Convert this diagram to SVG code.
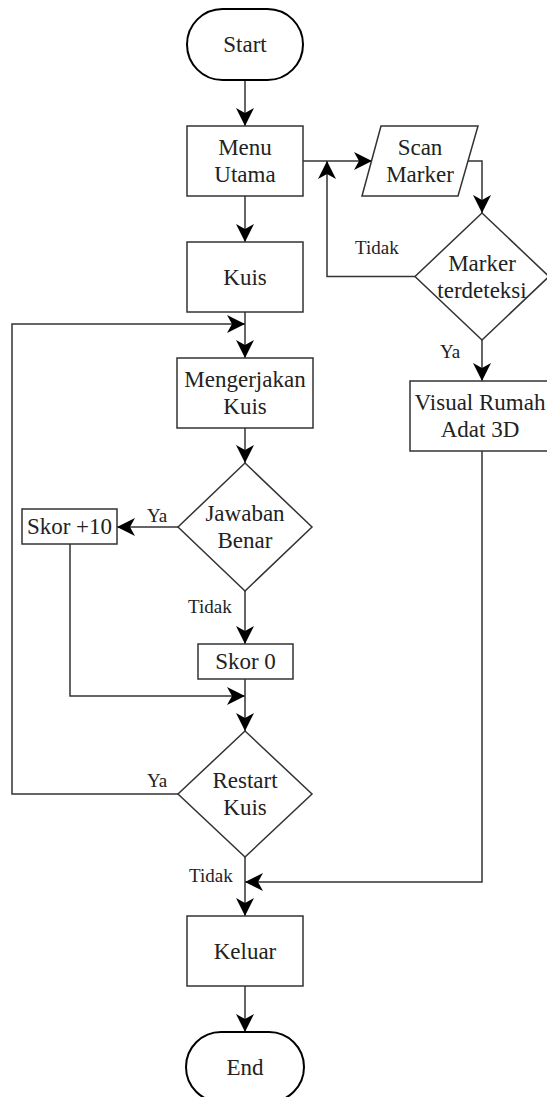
<svg xmlns="http://www.w3.org/2000/svg" width="547" height="1097" viewBox="0 0 547 1097">
<style>
.box{fill:#fff;stroke:#333;stroke-width:1.5}
.term{fill:#fff;stroke:#000;stroke-width:2}
.t{font-family:"Liberation Serif","Times New Roman",serif;font-size:23px;fill:#222;text-anchor:middle}
.lbl{font-family:"Liberation Serif","Times New Roman",serif;font-size:19px;fill:#222}
.edge{fill:none;stroke:#333;stroke-width:1.5;marker-end:url(#arr)}
</style>
<defs>
<marker id="arr" markerUnits="userSpaceOnUse" markerWidth="20" markerHeight="20" viewBox="0 0 20 20" refX="19" refY="10" orient="auto">
<path d="M19,10 L1,1 L6,10 L1,19 Z" fill="#000"/>
</marker>
</defs>
<rect width="547" height="1097" fill="#fff"/>
<g id="connectors">
<path class="edge" d="M245,80 V126"/>
<path class="edge" d="M303,161 H372"/>
<path class="edge" d="M468,161 H482 V213"/>
<path class="edge" d="M415,276.5 H327 V161"/>
<path class="edge" d="M245,196 V242"/>
<path class="edge" d="M245,312 V358"/>
<path class="edge" d="M245,428 V463"/>
<path class="edge" d="M178,527 H117"/>
<path class="edge" d="M245,591 V644"/>
<path class="edge" d="M70,544 V696 H245"/>
<path class="edge" d="M245,679 V731"/>
<path class="edge" d="M178,794 H12 V324 H245"/>
<path class="edge" d="M245,857 V916"/>
<path class="edge" d="M482,340 V381"/>
<path class="edge" d="M482,451 V882 H245"/>
<path class="edge" d="M245,986 V1032"/>
<text class="lbl" x="355" y="254">Tidak</text>
<text class="lbl" x="440" y="358">Ya</text>
<text class="lbl" x="147" y="522">Ya</text>
<text class="lbl" x="188" y="613">Tidak</text>
<text class="lbl" x="147" y="787">Ya</text>
<text class="lbl" x="189" y="882">Tidak</text>
</g>
<g id="start"><rect class="term" x="187" y="9" width="116" height="71" rx="35.5" ry="35.5"/><text class="t" x="245" y="52">Start</text></g>
<g id="menu"><rect class="box" x="187" y="126" width="116" height="70"/><text class="t" x="245" y="155">Menu</text><text class="t" x="245" y="182">Utama</text></g>
<g id="scan"><polygon class="box" points="381,126 478,126 458,196 362,196"/><text class="t" x="420" y="155">Scan</text><text class="t" x="420" y="182">Marker</text></g>
<g id="marker"><polygon class="box" points="482,213 549,276.5 482,340 415,276.5"/><text class="t" x="482" y="270.5">Marker</text><text class="t" x="482" y="297.5">terdeteksi</text></g>
<g id="visual"><rect class="box" x="410" y="381" width="144" height="70"/><text class="t" x="480" y="410">Visual Rumah</text><text class="t" x="480" y="437">Adat 3D</text></g>
<g id="kuis"><rect class="box" x="187" y="242" width="116" height="70"/><text class="t" x="245" y="285">Kuis</text></g>
<g id="mengerjakan"><rect class="box" x="177" y="358" width="136" height="70"/><text class="t" x="245" y="387">Mengerjakan</text><text class="t" x="245" y="414">Kuis</text></g>
<g id="jawaban"><polygon class="box" points="245,463 312,527 245,591 178,527"/><text class="t" x="245" y="521">Jawaban</text><text class="t" x="245" y="548">Benar</text></g>
<g id="skor10"><rect class="box" x="22" y="509" width="95" height="35"/><text class="t" x="69.5" y="534">Skor +10</text></g>
<g id="skor0"><rect class="box" x="198" y="644" width="95" height="35"/><text class="t" x="245.5" y="669">Skor 0</text></g>
<g id="restart"><polygon class="box" points="245,731 312,794 245,857 178,794"/><text class="t" x="245" y="788">Restart</text><text class="t" x="245" y="815">Kuis</text></g>
<g id="keluar"><rect class="box" x="187" y="916" width="116" height="70"/><text class="t" x="245" y="959">Keluar</text></g>
<g id="end"><rect class="term" x="186" y="1032" width="118" height="70" rx="35" ry="35"/><text class="t" x="245" y="1075">End</text></g>
</svg>
